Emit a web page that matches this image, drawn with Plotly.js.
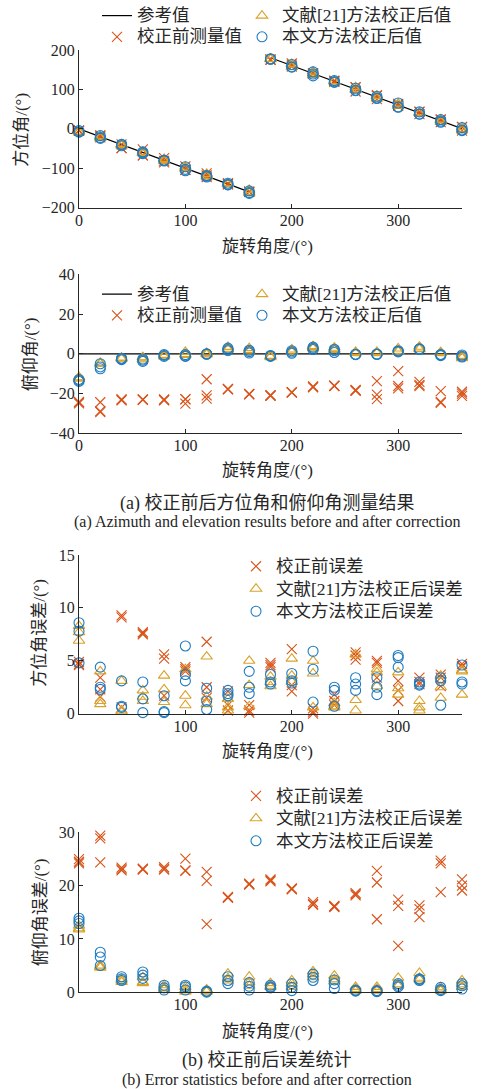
<!DOCTYPE html>
<html><head><meta charset="utf-8">
<script src="https://cdn.plot.ly/plotly-3.0.1.min.js"></script>
<style>html,body{margin:0;padding:0;background:#fff}</style>
</head><body><div id="chart" style="width:495px;height:1089px"></div>
<script>
// rotation angles (deg); three measurements per angle
const angles = [0,20,40,60,80,100,120,140,160,180,200,220,240,260,280,300,320,340,360];
const azimuthRef = [0,-20,-40,-60,-80,-100,-120,-140,-160,180,160,140,120,100,80,60,40,20,0];
const elevationRef = [0,0,0,0,0,0,0,0,0,0,0,0,0,0,0,0,0,0,0];

// (a) azimuth measurements
const azBefore = [-4.7,-4.6,-4.9, -16.6,-21.6,-17.7, -49.3,-49.1,-39.4, -67.7,-52.4,-67.5, -74.4,-85.2,-81.7,
  -95.6,-104.2,-104.0, -113.2,-122.5,-118.5, -137.9,-140.8,-140.3, -159.2,-160.3,-160.1, 175.2,175.4,175.6,
  166.1,162.7,157.9, 140.5,139.8,140.0, 121.8,118.8,120.8, 105.8,94.5,105.1, 85.0,75.2,83.4, 63.1,57.8,61.2,
  43.4,37.0,42.8, 23.7,16.6,22.6, 4.7,-4.5,4.4];
const azLit = [-8.3,-7.7,-6.9, -24.0,-18.8,-20.9, -43.1,-39.7,-40.2, -62.2,-58.4,-61.2, -76.4,-82.3,-78.9,
  -95.8,-101.7,-99.2, -114.6,-121.6,-119.1, -138.6,-140.6,-139.7, -155.0,-162.7,-160.7, 176.5,177.0,177.4,
  164.8,156.4,163.0, 145.0,136.2,140.6, 121.0,119.3,120.6, 105.6,98.7,100.3, 84.2,76.1,82.6, 63.9,57.6,61.8,
  41.2,39.4,40.3, 23.6,17.5,21.5, -4.1,4.0,-1.8];
const azOurs = [-8.6,-7.8,-4.8, -24.4,-17.5,-22.3, -43.1,-39.3,-40.6, -63.0,-58.6,-60.1, -81.7,-79.8,-80.1,
  -106.4,-96.3,-103.1, -122.4,-118.8,-120.4, -142.2,-138.1,-141.7, -164.0,-157.5,-161.9, 176.3,177.0,177.2,
  156.2,163.1,157.1, 134.1,144.2,138.9, 117.5,122.2,119.3, 96.6,102.8,97.8, 76.6,82.5,78.2, 54.5,65.3,55.6,
  37.0,42.8,37.3, 16.6,23.1,19.2, -4.6,-3.0,2.8];

// (a) elevation measurements
const elBefore = [-25.0,-24.5,-24.2, -29.4,-28.9,-24.4, -23.4,-23.1,-22.9, -23.2,-23.1,-23.0, -23.5,-23.2,-23.0,
  -25.1,-22.9,-22.8, -22.6,-20.9,-12.8, -17.9,-17.8,-17.7, -20.4,-20.3,-20.2, -21.2,-21.0,-20.8,
  -19.5,-19.4,-19.3, -16.9,-16.6,-16.4, -16.2,-16.1,-16.0, -18.6,-18.4,-18.2, -22.8,-20.6,-13.7,
  -17.4,-16.2,-8.7, -16.3,-15.6,-14.1, -24.7,-24.2,-18.8, -21.2,-20.0,-19.1];
const elLit = [-12.5,-12.0,-11.8, -5.0,-4.8,-4.6, -2.5,-2.2,-1.9, -2.8,-1.9,-1.7, -1.3,-0.8,-0.5,
  1.0,-0.5,-0.1, 0.5,-0.3,0.1, 3.5,2.6,2.2, 2.9,1.9,1.2, -1.7,-1.2,-1.0, 2.2,1.6,1.0, 3.9,3.4,2.8,
  3.1,2.4,2.0, 1.0,0.6,0.3, 1.0,0.6,0.3, 2.7,1.5,1.2, 3.6,2.7,2.4, 0.9,0.5,0.3, -2.2,-1.5,-1.0];
const elOurs = [-13.9,-13.4,-12.9, -7.5,-6.6,-5.0, -2.9,-2.5,-2.2, -3.8,-3.2,-2.6, -1.3,-0.8,-0.4,
  -1.3,-1.0,-0.4, -0.2,-0.1,0.0, 2.9,2.2,1.6, 1.8,1.1,0.4, -1.3,-1.0,-0.8, 1.6,0.9,0.3, 3.4,2.8,2.2,
  2.3,1.6,0.7, -0.4,-0.3,-0.2, -0.3,-0.2,-0.1, 1.6,1.3,1.0, 2.5,2.4,2.2, -0.9,-0.5,-0.3, -1.6,-1.2,-0.6];

// (b) azimuth errors
const azErrBefore = [4.7,4.6,4.9, 3.4,1.6,2.3, 9.3,9.1,0.6, 7.7,7.6,7.5, 5.6,5.2,1.7, 4.4,4.2,4.0, 6.8,2.5,1.5,
  2.1,0.8,0.3, 0.8,0.3,0.1, 4.8,4.6,4.4, 6.1,2.7,2.1, 0.5,0.2,0.0, 1.8,1.2,0.8, 5.8,5.5,5.1, 5.0,4.8,3.4,
  3.1,2.2,1.2, 3.4,3.0,2.8, 3.7,3.4,2.6, 4.7,4.5,4.4];
const azErrLit = [8.3,7.7,6.9, 4.0,1.2,0.9, 3.1,0.3,0.2, 2.2,1.6,1.2, 3.6,2.3,1.1, 4.2,1.7,0.8, 5.4,1.6,0.9,
  1.4,0.6,0.3, 5.0,2.7,0.7, 3.5,3.0,2.6, 5.2,3.6,3.0, 5.0,3.8,0.6, 1.0,0.7,0.6, 5.6,1.3,0.3, 4.2,3.9,2.6,
  3.9,2.4,1.8, 1.2,0.6,0.3, 3.6,2.5,1.5, 4.1,4.0,1.8];
const azErrOurs = [8.6,7.8,4.8, 4.4,2.5,2.3, 3.1,0.7,0.6, 3.0,1.4,0.1, 1.7,0.2,0.1, 6.4,3.7,3.1, 2.4,1.2,0.4,
  2.2,1.9,1.7, 4.0,2.5,1.9, 3.7,3.0,2.8, 3.8,3.1,2.9, 5.9,4.2,1.1, 2.5,2.2,0.7, 3.4,2.8,2.2, 3.4,2.5,1.8,
  5.5,5.3,4.4, 3.0,2.8,2.7, 3.4,3.1,0.8, 4.6,3.0,2.8];

// (b) elevation errors
const elErrBefore = [25.0,24.5,24.2, 29.4,28.9,24.4, 23.4,23.1,22.9, 23.2,23.1,23.0, 23.5,23.2,23.0,
  25.1,22.9,22.8, 22.6,20.9,12.8, 17.9,17.8,17.7, 20.4,20.3,20.2, 21.2,21.0,20.8, 19.5,19.4,19.3,
  16.9,16.6,16.4, 16.2,16.1,16.0, 18.6,18.4,18.2, 22.8,20.6,13.7, 17.4,16.2,8.7, 16.3,15.6,14.1,
  24.7,24.2,18.8, 21.2,20.0,19.1];
const elErrLit = [12.5,12.0,11.8, 5.0,4.8,4.6, 2.5,2.2,1.9, 2.8,1.9,1.7, 1.3,0.8,0.5, 1.0,0.5,0.1, 0.5,0.3,0.1,
  3.5,2.6,2.2, 2.9,1.9,1.2, 1.7,1.2,1.0, 2.2,1.6,1.0, 3.9,3.4,2.8, 3.1,2.4,2.0, 1.0,0.6,0.3, 1.0,0.6,0.3,
  2.7,1.5,1.2, 3.6,2.7,2.4, 0.9,0.5,0.3, 2.2,1.5,1.0];
const elErrOurs = [13.9,13.4,12.9, 7.5,6.6,5.0, 2.9,2.5,2.2, 3.8,3.2,2.6, 1.3,0.8,0.4, 1.3,1.0,0.4, 0.2,0.1,0.0,
  2.9,2.2,1.6, 1.8,1.1,0.4, 1.3,1.0,0.8, 1.6,0.9,0.3, 3.4,2.8,2.2, 2.3,1.6,0.7, 0.4,0.3,0.2, 0.3,0.2,0.1,
  1.6,1.3,1.0, 2.5,2.4,2.2, 0.9,0.5,0.3, 1.6,1.2,0.6];

const names = {ref:'参考值', before:'校正前测量值', lit:'文献[21]方法校正后值', ours:'本文方法校正后值',
  eBefore:'校正前误差', eLit:'文献[21]方法校正后误差', eOurs:'本文方法校正后误差'};

const RED = '#D95319', GOLD = '#D9A22A', BLUE = '#1F7BC0', INK = '#262626';
const FONT = "'Liberation Serif', 'Times New Roman', 'Noto Sans CJK SC', serif";
const big = s => '<span style="font-size:17.5px">' + s + '</span>';

const xRep = angles.flatMap(a => [a, a, a]);
// reference azimuth line with a break at the ±180 wrap
const refX = [], refY = [];
angles.forEach((a, i) => { refX.push(a); refY.push(azimuthRef[i]); if (a === 160) { refX.push(null); refY.push(null); } });

function mk(symbol, color) {
  return {symbol: symbol, size: 10, color: color, line: {color: color, width: 1.1}};
}
function sc(x, y, name, marker, ax, lg, rank) {
  return {type: 'scatter', mode: 'markers', x: x, y: y, name: big(name), marker: marker,
    xaxis: 'x' + ax, yaxis: 'y' + ax, legend: lg, legendrank: rank, cliponaxis: false, hoverinfo: 'skip'};
}
function line(x, y, ax, lg) {
  return {type: 'scatter', mode: 'lines', x: x, y: y, name: big(names.ref), line: {color: '#000', width: 1.2},
    xaxis: 'x' + ax, yaxis: 'y' + ax, legend: lg, legendrank: 1, hoverinfo: 'skip', connectgaps: false};
}

const traces = [
  line(refX, refY, '', 'legend'),
  sc(xRep, azBefore, names.before, mk('x-thin-open', RED), '', 'legend', 2),
  sc(xRep, azLit, names.lit, mk('triangle-up-open', GOLD), '', 'legend5', 1),
  sc(xRep, azOurs, names.ours, mk('circle-open', BLUE), '', 'legend5', 2),

  line(angles, elevationRef, '2', 'legend2'),
  sc(xRep, elBefore, names.before, mk('x-thin-open', RED), '2', 'legend2', 2),
  sc(xRep, elLit, names.lit, mk('triangle-up-open', GOLD), '2', 'legend6', 1),
  sc(xRep, elOurs, names.ours, mk('circle-open', BLUE), '2', 'legend6', 2),

  sc(xRep, azErrBefore, names.eBefore, mk('x-thin-open', RED), '3', 'legend3', 1),
  sc(xRep, azErrLit, names.eLit, mk('triangle-up-open', GOLD), '3', 'legend3', 2),
  sc(xRep, azErrOurs, names.eOurs, mk('circle-open', BLUE), '3', 'legend3', 3),

  sc(xRep, elErrBefore, names.eBefore, mk('x-thin-open', RED), '4', 'legend4', 1),
  sc(xRep, elErrLit, names.eLit, mk('triangle-up-open', GOLD), '4', 'legend4', 2),
  sc(xRep, elErrOurs, names.eOurs, mk('circle-open', BLUE), '4', 'legend4', 3)
];

const W = 495, H = 1089, L = 79, R = 33, PW = W - L - R;
const px = v => (v - L) / PW;
const py = v => 1 - v / H;

function xa(anchor, tickvals) {
  return {domain: [0, 1], anchor: anchor, range: [0, 360], tickvals: tickvals, showline: true, linecolor: INK,
    linewidth: 1, ticks: 'inside', ticklen: 4, tickcolor: INK, showgrid: false, zeroline: false,
    ticklabelstandoff: -2,
    tickfont: {size: 16, color: INK, family: FONT}, fixedrange: true, automargin: false};
}
function ya(anchor, top, bottom, range, tickvals) {
  return {domain: [py(bottom), py(top)], anchor: anchor, range: range, tickvals: tickvals, showline: true,
    linecolor: INK, linewidth: 1, ticks: 'inside', ticklen: 4, tickcolor: INK, showgrid: false, zeroline: false,
    tickfont: {size: 16, color: INK, family: FONT}, fixedrange: true, automargin: false};
}
function lgd(xpx, ytop, fs) {
  return {x: px(xpx), xanchor: 'left', y: py(ytop), yanchor: 'top', bgcolor: 'rgba(0,0,0,0)',
    borderwidth: 0, font: {size: fs, color: INK, family: FONT}, itemwidth: 30, tracegroupgap: 0,
    itemclick: false, itemdoubleclick: false};
}
function ann(text, xpx, ypx, size, angle) {
  return {text: text, x: px(xpx), y: py(ypx), xref: 'paper', yref: 'paper', showarrow: false,
    xanchor: 'center', yanchor: 'middle', textangle: angle || 0, font: {size: size, color: INK, family: FONT}};
}

const layout = {
  width: W, height: H, margin: {l: L, r: R, t: 0, b: 0}, paper_bgcolor: '#fff', plot_bgcolor: 'rgba(0,0,0,0)',
  showlegend: true, font: {family: FONT, color: INK},
  xaxis: xa('y', [0, 100, 200, 300]),
  yaxis: ya('x', 48, 206, [-200, 200], [-200, -100, 0, 100, 200]),
  xaxis2: xa('y2', [0, 100, 200, 300]),
  yaxis2: ya('x2', 273, 432, [-40, 40], [-40, -20, 0, 20, 40]),
  xaxis3: xa('y3', [100, 200, 300]),
  yaxis3: ya('x3', 554, 713, [0, 15], [0, 5, 10, 15]),
  xaxis4: xa('y4', [100, 200, 300]),
  yaxis4: ya('x4', 832, 992, [0, 30], [0, 10, 20, 30]),
  legend: lgd(97, -2, 14),
  legend5: lgd(242, -2, 14),
  legend2: lgd(97, 277, 14),
  legend6: lgd(242, 277, 14),
  legend3: lgd(236, 549, 15),
  legend4: lgd(236, 779, 15),
  annotations: [
    ann('旋转角度/(°)', 267, 245, 17),
    ann('旋转角度/(°)', 267, 469, 17),
    ann('旋转角度/(°)', 267, 751, 17),
    ann('旋转角度/(°)', 267, 1031, 17),
    ann('方位角/(°)', 22, 128, 17, -90),
    ann('俯仰角/(°)', 30, 353, 17, -90),
    ann('方位角误差/(°)', 40, 632, 17, -90),
    ann('俯仰角误差/(°)', 40, 912, 17, -90),
    ann('(a) 校正前后方位角和俯仰角测量结果', 267, 502, 18),
    ann('(a) Azimuth and elevation results before and after correction', 267, 521, 16),
    ann('(b) 校正前后误差统计', 267, 1060, 18),
    ann('(b) Error statistics before and after correction', 267, 1080, 16)
  ]
};

Plotly.newPlot('chart', traces, layout, {staticPlot: true, displayModeBar: false});
</script>
</body></html>
